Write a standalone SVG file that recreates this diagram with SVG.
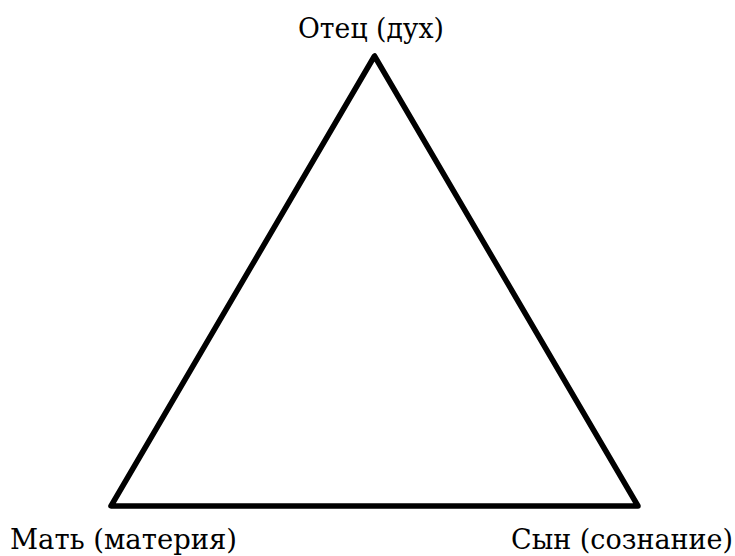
<svg xmlns="http://www.w3.org/2000/svg" width="735" height="556" viewBox="0 0 735 556">
<style>
.lbl{font-family:"DejaVu Serif","Liberation Serif",serif;font-size:27px;fill:#000}
.edge{fill:none;stroke:#000;stroke-width:5.5;stroke-linejoin:round}
</style>
<rect width="735" height="556" fill="#fff"/>
<g id="connectors">
<polygon class="edge" points="374.5,56 111,506 638,506"/>
</g>
<g id="father"><text class="lbl" x="298" y="38" textLength="146" lengthAdjust="spacingAndGlyphs">Отец (дух)</text></g>
<g id="mother"><text class="lbl" x="10" y="549" textLength="227" lengthAdjust="spacingAndGlyphs">Мать (материя)</text></g>
<g id="son"><text class="lbl" x="511" y="549" textLength="222" lengthAdjust="spacingAndGlyphs">Сын (сознание)</text></g>
</svg>
